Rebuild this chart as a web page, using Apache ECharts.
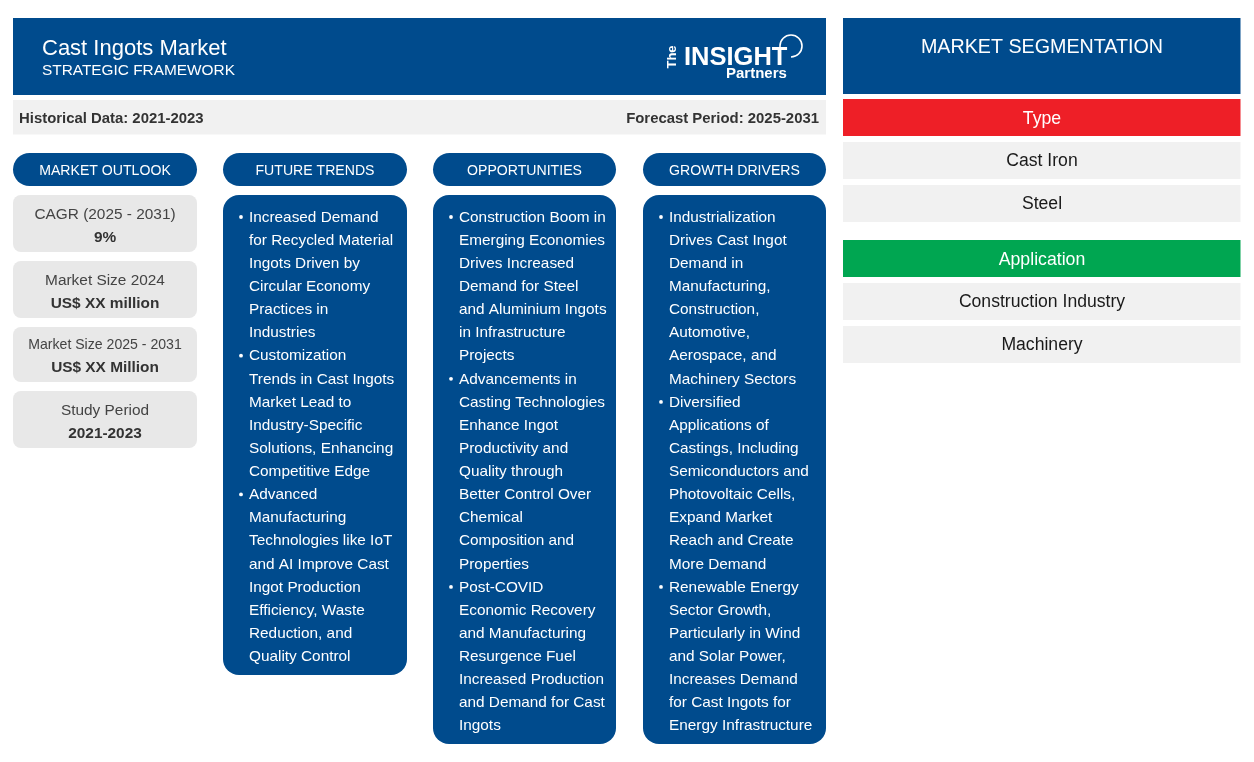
<!DOCTYPE html>
<html><head><meta charset="utf-8">
<style>html,body{margin:0;padding:0;background:#fff}#c{width:1254px;height:762px}</style>
<script src="https://cdn.jsdelivr.net/npm/echarts@6/dist/echarts.min.js"></script>
</head><body><div id="c"></div>
<script>
const FONT = '"Liberation Sans", Arial, sans-serif';
const BLUE = '#004b8d';
const title = 'Cast Ingots Market';
const subtitle = 'STRATEGIC FRAMEWORK';
const historical = 'Historical Data: 2021-2023';
const forecast = 'Forecast Period: 2025-2031';
const columnHeads = ['MARKET OUTLOOK', 'FUTURE TRENDS', 'OPPORTUNITIES', 'GROWTH DRIVERS'];
const outlookLabels = ['CAGR (2025 - 2031)', 'Market Size 2024', 'Market Size 2025 - 2031', 'Study Period'];
const outlookValues = ['9%', 'US$ XX million', 'US$ XX Million', '2021-2023'];
const futureTrends = [
  ['Increased Demand','for Recycled Material','Ingots Driven by','Circular Economy','Practices in','Industries'],
  ['Customization','Trends in Cast Ingots','Market Lead to','Industry-Specific','Solutions, Enhancing','Competitive Edge'],
  ['Advanced','Manufacturing','Technologies like IoT','and AI Improve Cast','Ingot Production','Efficiency, Waste','Reduction, and','Quality Control']
];
const opportunities = [
  ['Construction Boom in','Emerging Economies','Drives Increased','Demand for Steel','and Aluminium Ingots','in Infrastructure','Projects'],
  ['Advancements in','Casting Technologies','Enhance Ingot','Productivity and','Quality through','Better Control Over','Chemical','Composition and','Properties'],
  ['Post-COVID','Economic Recovery','and Manufacturing','Resurgence Fuel','Increased Production','and Demand for Cast','Ingots']
];
const growthDrivers = [
  ['Industrialization','Drives Cast Ingot','Demand in','Manufacturing,','Construction,','Automotive,','Aerospace, and','Machinery Sectors'],
  ['Diversified','Applications of','Castings, Including','Semiconductors and','Photovoltaic Cells,','Expand Market','Reach and Create','More Demand'],
  ['Renewable Energy','Sector Growth,','Particularly in Wind','and Solar Power,','Increases Demand','for Cast Ingots for','Energy Infrastructure']
];
const segTitle = 'MARKET SEGMENTATION';
const segHeads = ['Type', 'Application'];
const segColors = ['#ee1f27', '#00a651'];
const segItems = [['Cast Iron', 'Steel'], ['Construction Industry', 'Machinery']];

const g = [];
const rect = (x, y, w, h, fill, r) => g.push({type:'rect', shape:{x, y, width:w, height:h, r:r||0}, style:{fill}});
const text = (x, y, t, size, fill, align, weight) => g.push({type:'text', x, y, style:{text:t, fontSize:size, fontFamily:FONT, fill, align:align||'left', verticalAlign:'middle', fontWeight:weight||'normal'}});

// header
rect(13, 18, 813, 77, BLUE);
text(42, 49, title, 22, '#fff');
text(42, 70.5, subtitle, 15.4, '#fff');
rect(13, 100, 813, 34.5, '#f1f1f1');
text(19, 118.5, historical, 14.9, '#333', 'left', 'bold');
text(819, 118.5, forecast, 14.9, '#333', 'right', 'bold');

// logo
g.push({type:'text', x:679, y:57, rotation:Math.PI/2, originX:0, originY:0,
  style:{text:'The', fontSize:13, fontFamily:FONT, fill:'#fff', align:'center', verticalAlign:'bottom', fontWeight:'bold'}});
text(684, 58, 'INSIGHT', 25.5, '#fff', 'left', 'bold');
text(726, 74, 'Partners', 15, '#fff', 'left', 'bold');
g.push({type:'arc', shape:{cx:791, cy:46, r:11, startAngle:Math.PI*0.5, endAngle:Math.PI*1.0, clockwise:false}, style:{fill:'none', stroke:'#fff', lineWidth:1.6}});
g.push({type:'line', shape:{x1:780, y1:46, x2:780, y2:53}, style:{stroke:'#fff', lineWidth:1.6}});

// columns
const colX = [13, 223, 433, 643];
const colW = [184, 184, 183, 183];
columnHeads.forEach((h, i) => {
  rect(colX[i], 153, colW[i], 33, BLUE, 16.5);
  text(colX[i] + colW[i] / 2, 171, h, 14.1, '#fff', 'center');
});
const cardY = [195, 261, 327, 391];
const cardH = [57, 57, 55, 57];
const labelSize = [15.4, 15.4, 14.1, 15.4];
const labelDy = [19.5, 19.5, 18.5, 19.5];
const valueDy = [43, 43, 41, 43];
outlookLabels.forEach((l, i) => {
  rect(13, cardY[i], colW[0], cardH[i], '#e8e8e8', 8);
  text(105, cardY[i] + labelDy[i], l, labelSize[i], '#444', 'center');
  text(105, cardY[i] + valueDy[i], outlookValues[i], 15.4, '#333', 'center', 'bold');
});
const panels = [[1, futureTrends, 480], [2, opportunities, 549], [3, growthDrivers, 549]];
panels.forEach(([c, groups, h]) => {
  rect(colX[c], 195, colW[c], h, BLUE, 16);
  let n = 0;
  groups.forEach(lines => lines.forEach((t, j) => {
    const y = 217.5 + n * 23.12;
    if (j === 0) g.push({type:'circle', shape:{cx:colX[c] + 18, cy:y - 0.5, r:1.9}, style:{fill:'#fff'}});
    text(colX[c] + 26, y, t, 15.35, '#fff');
    n++;
  }));
});

// segmentation
rect(843, 18, 397.5, 76, BLUE);
text(1042, 47.5, segTitle, 19.7, '#fff', 'center');
const segY = [99, 240];
segHeads.forEach((h, i) => {
  rect(843, segY[i], 397.5, 37, segColors[i]);
  text(1042, segY[i] + 20, h, 17.7, '#fff', 'center');
  segItems[i].forEach((t, j) => {
    const y = segY[i] + 43 + j * 43;
    rect(843, y, 397.5, 37, '#f1f1f1');
    text(1042, y + 19.5, t, 17.6, '#1a1a1a', 'center');
  });
});

const chart = echarts.init(document.getElementById('c'), null, {renderer:'canvas', width:1254, height:762});
chart.setOption({animation:false, backgroundColor:'#fff', graphic:{elements:g}});
</script></body></html>
